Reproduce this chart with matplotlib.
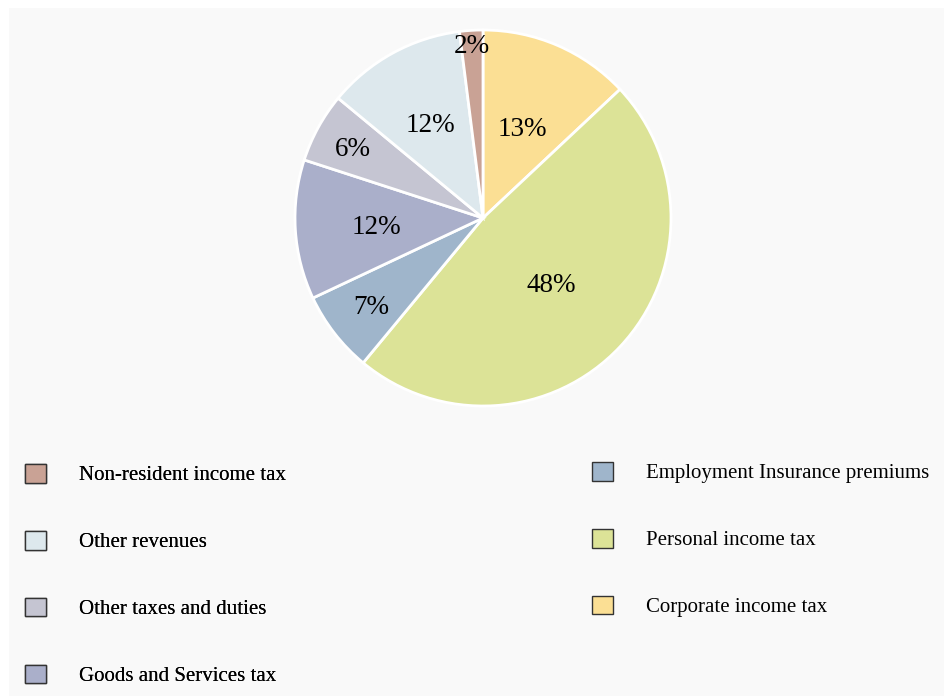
import matplotlib
matplotlib.use("Agg")
import matplotlib.pyplot as plt
import matplotlib.patches as mpatches
import numpy as np

# ---------------------------------------------------------------------------
# Data (clockwise from 12 o'clock)
# ---------------------------------------------------------------------------
categories = ["Corporate income tax", "Personal income tax",
              "Employment Insurance premiums", "Goods and Services tax",
              "Other taxes and duties", "Other revenues",
              "Non-resident income tax"]
shares = [13, 48, 7, 12, 6, 12, 2]
colors = ["#fbdf94", "#dce397", "#9fb5cb", "#aaafca",
          "#c5c5d2", "#dde8ed", "#c9a295"]

# radial position of each percentage label (fraction of radius)
label_r = [0.53, 0.5, 0.75, 0.57, 0.79, 0.58, 0.93]

# legend columns (column-major, as in the reference)
legend_left = ["Non-resident income tax", "Other revenues",
               "Other taxes and duties", "Goods and Services tax"]
legend_right = ["Employment Insurance premiums", "Personal income tax",
                "Corporate income tax"]

W, H = 944, 696
plt.rcParams["font.family"] = ["Liberation Serif", "DejaVu Serif"]

fig = plt.figure(figsize=(W / 100, H / 100), dpi=100)
fig.patch.set_facecolor("white")
fig.patches.append(mpatches.Rectangle((9 / W, 0), (W - 9) / W, (H - 8) / H,
                                      transform=fig.transFigure,
                                      facecolor="#f9f9f9", edgecolor="none",
                                      zorder=-10))

# pie axes: center (483, 218) px from top, radius 188 px
cx, cy, r = 483, 218, 188
ax = fig.add_axes([(cx - r) / W, (H - cy - r) / H, 2 * r / W, 2 * r / H])
wedges, _ = ax.pie(shares, colors=colors, startangle=90, counterclock=False,
                   radius=1.0,
                   wedgeprops=dict(edgecolor="white", linewidth=2))
ax.set_xlim(-1, 1)
ax.set_ylim(-1, 1)
ax.set_aspect("equal")
ax.axis("off")

total = sum(shares)
for w, val, lr in zip(wedges, shares, label_r):
    mid = np.deg2rad((w.theta1 + w.theta2) / 2)
    ax.text(lr * np.cos(mid), lr * np.sin(mid) - 0.015,
            f"{round(100 * val / total)}%",
            ha="center", va="center", fontsize=19.5, color="black")

# legends
color_of = dict(zip(categories, colors))


def make_legend(names, x_px, y_px):
    handles = [mpatches.Patch(facecolor=color_of[n], edgecolor="#333333",
                              linewidth=1, label=n) for n in names]
    leg = fig.legend(handles=handles, loc="upper left",
                     bbox_to_anchor=(x_px / W, 1 - y_px / H),
                     frameon=False, fontsize=15, borderpad=0,
                     borderaxespad=0, handlelength=1.0, handleheight=1.0,
                     handletextpad=1.6, labelspacing=2.18)
    return leg


leg1 = make_legend(legend_left, 25, 464)
fig.add_artist(leg1)
make_legend(legend_right, 592, 462)

fig.savefig("out.png", dpi=100)
